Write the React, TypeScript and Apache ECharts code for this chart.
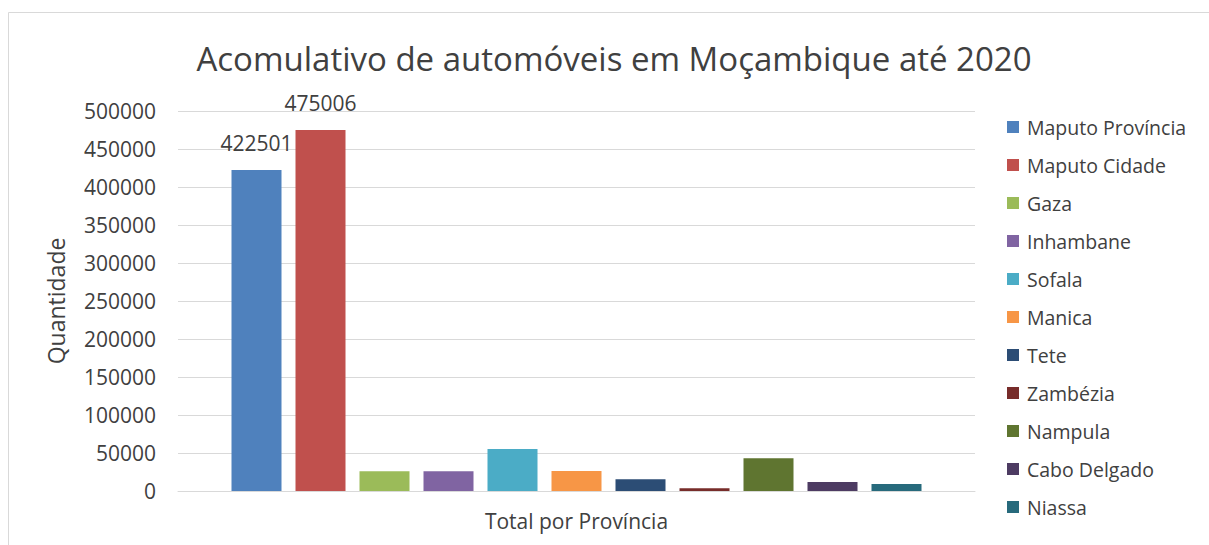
import React, { useEffect, useRef } from "react";
import * as echarts from "echarts";

const categories = ["Total por Província"];
const provinces = [
  "Maputo Província",
  "Maputo Cidade",
  "Gaza",
  "Inhambane",
  "Sofala",
  "Manica",
  "Tete",
  "Zambézia",
  "Nampula",
  "Cabo Delgado",
  "Niassa",
];
const values = [422501, 475006, 25900, 25900, 55400, 26300, 15400, 3600, 43100, 11800, 9100];
const colors = [
  "#4F81BD",
  "#C0504D",
  "#9BBB59",
  "#8064A2",
  "#4BACC6",
  "#F79646",
  "#2C4D75",
  "#772C2A",
  "#5F7530",
  "#4D3B62",
  "#276A7C",
];
const labelled = [true, true, false, false, false, false, false, false, false, false, false];

const FONT = "'Open Sans', sans-serif";

export default function App() {
  const ref = useRef<HTMLDivElement>(null);
  useEffect(() => {
    if (!ref.current) return;
    const chart = echarts.init(ref.current, null, { renderer: "svg" });
    chart.setOption({
      animation: false,
      textStyle: { fontFamily: FONT },
      graphic: [
        {
          type: "rect",
          shape: { x: 8.5, y: 12.5, width: 1220, height: 560 },
          style: { fill: "none", stroke: "#D9D9D9", lineWidth: 1 },
          silent: true,
        },
        {
          type: "text",
          x: 614,
          y: 58,
          style: {
            text: "Acomulativo de automóveis em Moçambique até 2020",
            fontSize: 33,
            fontFamily: FONT,
            fill: "#404040",
            textAlign: "center",
            textVerticalAlign: "middle",
          },
        },
      ],
      legend: {
        orient: "vertical",
        left: 1002,
        top: 111,
        itemWidth: 12,
        itemHeight: 12,
        itemGap: 16,
        icon: "rect",
        textStyle: { fontSize: 19.5, lineHeight: 22, color: "#404040", fontFamily: FONT, padding: [0, 0, 0, 3] },
        data: provinces,
      },
      grid: { left: 178, right: 1209 - 975, top: 111, bottom: 545 - 491, containLabel: false },
      xAxis: {
        type: "category",
        data: categories,
        axisLine: { show: true, lineStyle: { color: "#D9D9D9", width: 1 } },
        axisTick: { show: false },
        axisLabel: { color: "#404040", fontSize: 21, margin: 19, fontFamily: FONT },
      },
      yAxis: {
        type: "value",
        min: 0,
        max: 500000,
        interval: 50000,
        name: "Quantidade",
        nameLocation: "middle",
        nameGap: 111,
        nameTextStyle: { fontSize: 23, color: "#404040", fontFamily: FONT },
        axisLine: { show: false },
        axisTick: { show: false },
        axisLabel: {
          color: "#404040",
          fontSize: 21,
          margin: 22,
          fontFamily: FONT,
          formatter: (v: number) => String(v),
        },
        splitLine: { lineStyle: { color: "#D9D9D9", width: 1 } },
      },
      series: provinces.map((p, i) => ({
        name: p,
        type: "bar",
        data: [values[i]],
        barWidth: 50,
        barGap: "28%",
        itemStyle: { color: colors[i] },
        label: {
          show: labelled[i],
          position: "top",
          distance: 16,
          fontSize: 21,
          color: "#404040",
          fontFamily: FONT,
        },
      })),
    });
    return () => chart.dispose();
  }, []);
  return (
    <div
      ref={ref}
      style={{ position: "absolute", left: 0, top: 0, width: 1209, height: 545 }}
    />
  );
}
